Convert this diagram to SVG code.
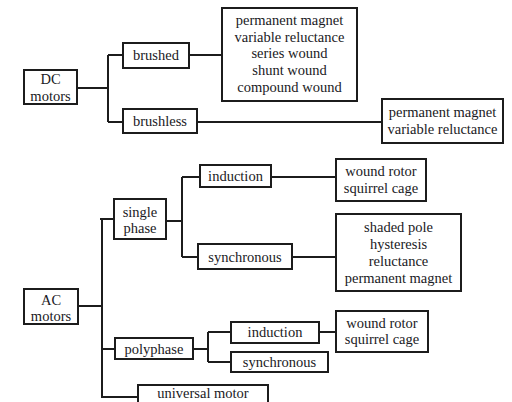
<svg xmlns="http://www.w3.org/2000/svg" width="512" height="402" viewBox="0 0 512 402">
<style>
rect{fill:#fff;stroke:#1c1c1c;stroke-width:2}
path{fill:none;stroke:#1c1c1c;stroke-width:2}
text{font-family:'Liberation Serif','Times New Roman','DejaVu Serif',serif;font-size:14.5px;fill:#1a1a24;text-anchor:middle}
</style>
<rect x="0" y="0" width="512" height="402" style="stroke:none"/>
<g id="connectors">
<path d="M78 88H108M108 55V122M108 55H123M108 122H123M189 55H222M197 122H382"/>
<path d="M78 306H102M102 219V397H138M100 219H114M102 349H115M166 221H182M182 177V257M182 177H200M182 257H198M271 177H336M292 257H336M193 349H208M208 332V362M208 332H231M208 362H231M319 332H336"/>
</g>
<g id="dc"><rect x="24" y="70" width="53" height="34"/><text x="50.5" y="84" font-family="Liberation Serif, serif">DC</text><text x="50.5" y="101">motors</text></g>
<g id="brushed"><rect x="123" y="43" width="66" height="25"/><text x="156" y="60">brushed</text></g>
<g id="brushless"><rect x="123" y="109" width="74" height="24"/><text x="160" y="126">brushless</text></g>
<g id="brushed-types"><rect x="222" y="8" width="135" height="93"/><text x="289.5" y="25">permanent magnet</text><text x="289.5" y="42">variable reluctance</text><text x="289.5" y="58">series wound</text><text x="289.5" y="75">shunt wound</text><text x="289.5" y="92">compound wound</text></g>
<g id="brushless-types"><rect x="382" y="99" width="121" height="44"/><text x="442.5" y="117">permanent magnet</text><text x="442.5" y="134">variable reluctance</text></g>
<g id="ac"><rect x="24" y="289" width="54" height="35"/><text x="51" y="305">AC</text><text x="51" y="321">motors</text></g>
<g id="single"><rect x="114" y="199" width="52" height="40"/><text x="140" y="217">single</text><text x="140" y="233">phase</text></g>
<g id="induction1"><rect x="200" y="165" width="71" height="22"/><text x="235.5" y="181">induction</text></g>
<g id="synchronous1"><rect x="198" y="244" width="94" height="25"/><text x="245" y="262">synchronous</text></g>
<g id="ind1-types"><rect x="336" y="159" width="90" height="42"/><text x="381" y="176">wound rotor</text><text x="381" y="193">squirrel cage</text></g>
<g id="syn1-types"><rect x="336" y="214" width="125" height="77"/><text x="398.5" y="232">shaded pole</text><text x="398.5" y="249">hysteresis</text><text x="398.5" y="266">reluctance</text><text x="398.5" y="283">permanent magnet</text></g>
<g id="polyphase"><rect x="115" y="338" width="78" height="21"/><text x="154" y="354">polyphase</text></g>
<g id="induction2"><rect x="231" y="322" width="88" height="21"/><text x="275" y="337">induction</text></g>
<g id="synchronous2"><rect x="231" y="352" width="97" height="20"/><text x="279.5" y="367">synchronous</text></g>
<g id="ind2-types"><rect x="336" y="311" width="92" height="41"/><text x="382" y="328">wound rotor</text><text x="382" y="344">squirrel cage</text></g>
<g id="universal"><rect x="138" y="385" width="130" height="30"/><text x="203" y="398">universal motor</text></g>
</svg>
